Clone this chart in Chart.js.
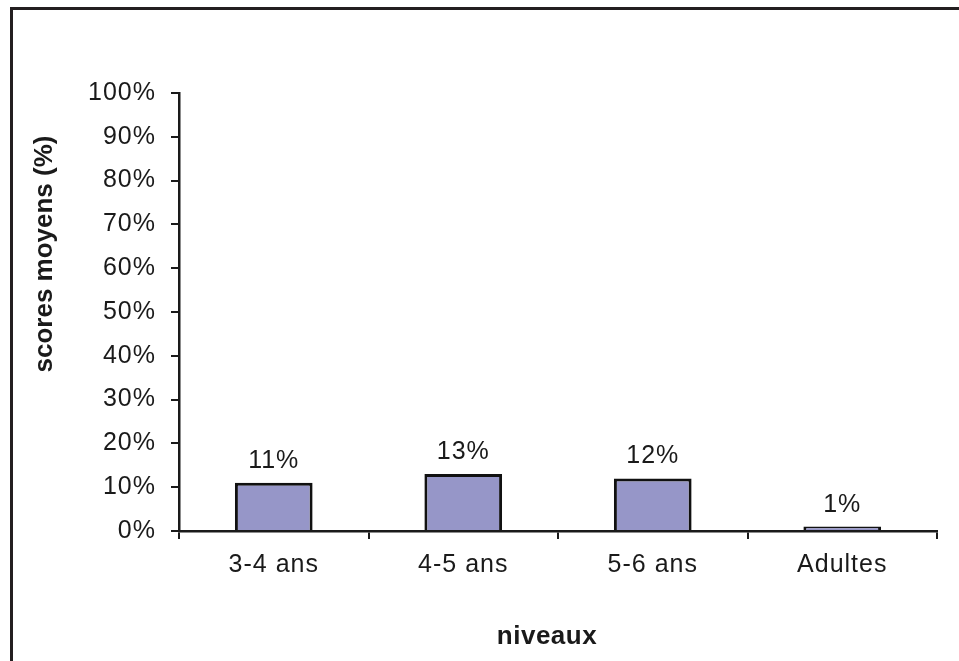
<!DOCTYPE html>
<html lang="fr">
<head>
<meta charset="utf-8">
<title>Scores moyens par niveau</title>
<script src="https://cdn.jsdelivr.net/npm/chart.js@4.4.1/dist/chart.umd.min.js"></script>
<style>
  html, body { margin: 0; padding: 0; background: #fff; }
  body { width: 959px; height: 661px; position: relative; overflow: hidden; }
  .frame {
    position: absolute; left: 10px; top: 7px; width: 960px; height: 660px;
    border-left: 3px solid #231f20; border-top: 3px solid #231f20;
  }
  #chart { position: absolute; left: 0; top: 0; }
</style>
</head>
<body>
<div class="frame"></div>
<canvas id="chart" width="959" height="661"></canvas>
<script>
'use strict';

// Data
const categories = ['3-4 ans', '4-5 ans', '5-6 ans', 'Adultes'];
const scores = [11, 13, 12, 1];          // scores moyens (%)
const yTicks = [0, 10, 20, 30, 40, 50, 60, 70, 80, 90, 100];

const INK = '#1a1a1a';
const FONT = "'Liberation Sans', Arial, sans-serif";

// The original text is a bit wider than Arial, so loosen it a little
const spacing = {
  id: 'spacing',
  beforeDraw(chart) {
    if ('letterSpacing' in chart.ctx) chart.ctx.letterSpacing = '1px';
  }
};

// Value labels above each bar
const valueLabels = {
  id: 'valueLabels',
  afterDatasetsDraw(chart) {
    const { ctx } = chart;
    const meta = chart.getDatasetMeta(0);
    ctx.save();
    ctx.font = `25px ${FONT}`;
    ctx.fillStyle = INK;
    ctx.textAlign = 'center';
    ctx.textBaseline = 'alphabetic';
    meta.data.forEach((bar, i) => {
      ctx.fillText(scores[i] + '%', bar.x, bar.y - 15);
    });
    ctx.restore();
  }
};

// Axis titles (placed like the original, not centred on the axes)
const axisTitles = {
  id: 'axisTitles',
  afterDraw(chart) {
    const { ctx, chartArea } = chart;
    ctx.save();
    ctx.font = `bold 26px ${FONT}`;
    ctx.fillStyle = INK;
    ctx.textAlign = 'center';
    ctx.textBaseline = 'middle';
    if ('letterSpacing' in ctx) ctx.letterSpacing = '0.5px';
    ctx.fillText('niveaux', chartArea.left + 368, 637);
    if ('letterSpacing' in ctx) ctx.letterSpacing = '0px';
    ctx.translate(45, chartArea.top + 161);
    ctx.rotate(-Math.PI / 2);
    ctx.fillText('scores moyens (%)', 0, 0);
    ctx.restore();
  }
};

new Chart(document.getElementById('chart'), {
  type: 'bar',
  data: {
    labels: categories,
    datasets: [{
      data: scores,
      backgroundColor: '#9696c8',
      borderColor: '#111',
      borderWidth: 3,
      borderSkipped: 'bottom',
      barPercentage: 0.41,
      categoryPercentage: 1
    }]
  },
  options: {
    responsive: false,
    devicePixelRatio: 1,
    animation: false,
    layout: { padding: { top: 93, right: 22, bottom: 0, left: 0 } },
    plugins: {
      legend: { display: false },
      tooltip: { enabled: false }
    },
    scales: {
      x: {
        afterFit: s => { s.height = 130; },
        grid: {
          offset: true,
          drawOnChartArea: false,
          drawTicks: true,
          tickLength: 8,
          color: INK,
          lineWidth: 2
        },
        border: { display: true, color: INK, width: 2.5 },
        ticks: {
          color: INK,
          padding: 11,
          font: { family: FONT, size: 25 }
        }
      },
      y: {
        min: 0,
        max: 100,
        afterFit: s => { s.width = 179; },
        afterBuildTicks: s => { s.ticks = yTicks.map(v => ({ value: v })); },
        grid: {
          drawOnChartArea: false,
          drawTicks: true,
          tickLength: 8,
          color: INK,
          lineWidth: 2
        },
        border: { display: true, color: INK, width: 2.5 },
        ticks: {
          color: INK,
          padding: 15,
          font: { family: FONT, size: 25 },
          callback: v => v + '%'
        }
      }
    }
  },
  plugins: [spacing, valueLabels, axisTitles]
});
</script>
</body>
</html>
